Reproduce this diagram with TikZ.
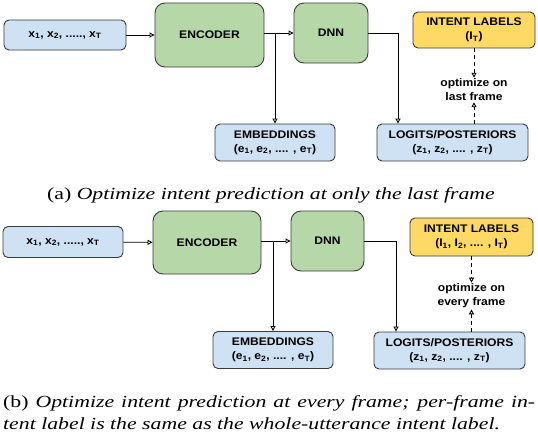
\documentclass[tikz,border=0pt]{standalone}
\usepackage{fontspec}
\setmainfont{Liberation Serif}
\setsansfont{Liberation Sans}[FakeStretch=1.1]
\newfontfamily\capfont{Liberation Serif}[FakeStretch=1.28]
\usetikzlibrary{arrows.meta}
\definecolor{boxblue}{HTML}{CFE2F3}
\definecolor{boxgreen}{HTML}{B6D7A8}
\definecolor{boxyellow}{HTML}{FFD966}
\definecolor{boxline}{HTML}{3A3A3A}
\tikzset{
	myarrow/.style={-{Triangle[open, length=5pt, width=5pt]}, line width=0.9pt},
	mydash/.style={dashed, dash pattern=on 4pt off 3pt},
	bluebox/.style={draw=boxline, fill=boxblue, rounded corners=5pt, line width=0.9pt,
		font=\sffamily\bfseries\fontsize{11}{14}\selectfont, align=center, inner sep=0pt},
	greenbox/.style={bluebox, fill=boxgreen, rounded corners=10pt},
	yellowbox/.style={bluebox, fill=boxyellow},
	optlabel/.style={font=\sffamily\bfseries\fontsize{11}{14}\selectfont, align=center, inner sep=1pt},
	caption/.style={font=\capfont\fontsize{17}{20}\selectfont, inner sep=0pt, anchor=base}
}

\begin{document}
\begin{tikzpicture}[x=1pt, y=-1pt]
	\useasboundingbox (0,0) rectangle (538,432);
	
	% (a) last frame only
	\node[bluebox, minimum width=122pt, minimum height=30pt] (a-in) at (65,35) {x\textsubscript{1}, x\textsubscript{2}, ....., x\textsubscript{T}};
	\node[greenbox, minimum width=109pt, minimum height=64pt] (a-enc) at (209.5,35) {ENCODER};
	\node[greenbox, minimum width=74pt, minimum height=60pt] (a-dnn) at (331,33) {DNN};
	\node[yellowbox, minimum width=122pt, minimum height=36pt] (a-lab) at (474,30) {INTENT LABELS\\(I\textsubscript{T})};
	\node[bluebox, minimum width=120pt, minimum height=37pt] (a-emb) at (275,142.5) {EMBEDDINGS\\(e\textsubscript{1}, e\textsubscript{2}, .... , e\textsubscript{T})};
	\node[bluebox, minimum width=151pt, minimum height=37pt] (a-log) at (452.5,142.5) {LOGITS/POSTERIORS\\(z\textsubscript{1}, z\textsubscript{2}, .... , z\textsubscript{T})};
	\node[optlabel] (a-opt) at (474,90) {optimize on\\last frame};
	\coordinate (a-split) at (a-emb.north |- a-dnn.west);
	
	\draw[myarrow] (a-in) -- (a-enc);
	\draw[myarrow] (a-enc.east |- a-dnn.west) -- (a-dnn.west);
	\draw[myarrow] (a-split) -- (a-emb.north);
	\draw[myarrow] (a-dnn.east) -| ([xshift=-54.5pt]a-log.north);
	\draw[myarrow, mydash] (a-lab.south -| a-opt.north) -- (a-opt.north);
	\draw[myarrow, mydash] (a-log.north -| a-opt.south) -- (a-opt.south);
	
	\node[caption] (a-cap) at (271,199) {(a) \textit{Optimize intent prediction at only the last frame}};
	
	% (b) every frame
	\node[bluebox, minimum width=120pt, minimum height=31pt] (b-in) at (63,242) {x\textsubscript{1}, x\textsubscript{2}, ....., x\textsubscript{T}};
	\node[greenbox, minimum width=108pt, minimum height=63pt] (b-enc) at (207,242.5) {ENCODER};
	\node[greenbox, minimum width=73pt, minimum height=60pt] (b-dnn) at (327.5,241) {DNN};
	\node[yellowbox, minimum width=123pt, minimum height=38pt] (b-lab) at (471.5,237) {INTENT LABELS\\(I\textsubscript{1}, I\textsubscript{2}, .... , I\textsubscript{T})};
	\node[bluebox, minimum width=120pt, minimum height=37pt] (b-emb) at (273,350) {EMBEDDINGS\\(e\textsubscript{1}, e\textsubscript{2}, .... , e\textsubscript{T})};
	\node[bluebox, minimum width=151pt, minimum height=37pt] (b-log) at (449.5,350.5) {LOGITS/POSTERIORS\\(z\textsubscript{1}, z\textsubscript{2}, .... , z\textsubscript{T})};
	\node[optlabel] (b-opt) at (471.5,296) {optimize on\\every frame};
	\coordinate (b-split) at (b-emb.north |- b-dnn.west);
	
	\draw[myarrow] (b-in) -- (b-enc);
	\draw[myarrow] (b-enc.east |- b-dnn.west) -- (b-dnn.west);
	\draw[myarrow] (b-split) -- (b-emb.north);
	\draw[myarrow] (b-dnn.east) -| ([xshift=-53.5pt]b-log.north);
	\draw[myarrow, mydash] (b-lab.south -| b-opt.north) -- (b-opt.north);
	\draw[myarrow, mydash] (b-log.north -| b-opt.south) -- (b-opt.south);
	
	\node[caption, anchor=base west] (b-cap1) at (3,407) {\makebox[532pt][s]{(b) \textit{Optimize intent prediction at every frame; per-frame in-}}};
	\node[caption, anchor=base west] (b-cap2) at (3,429) {\textit{tent label is the same as the whole-utterance intent label.}};
\end{tikzpicture}
\end{document}
